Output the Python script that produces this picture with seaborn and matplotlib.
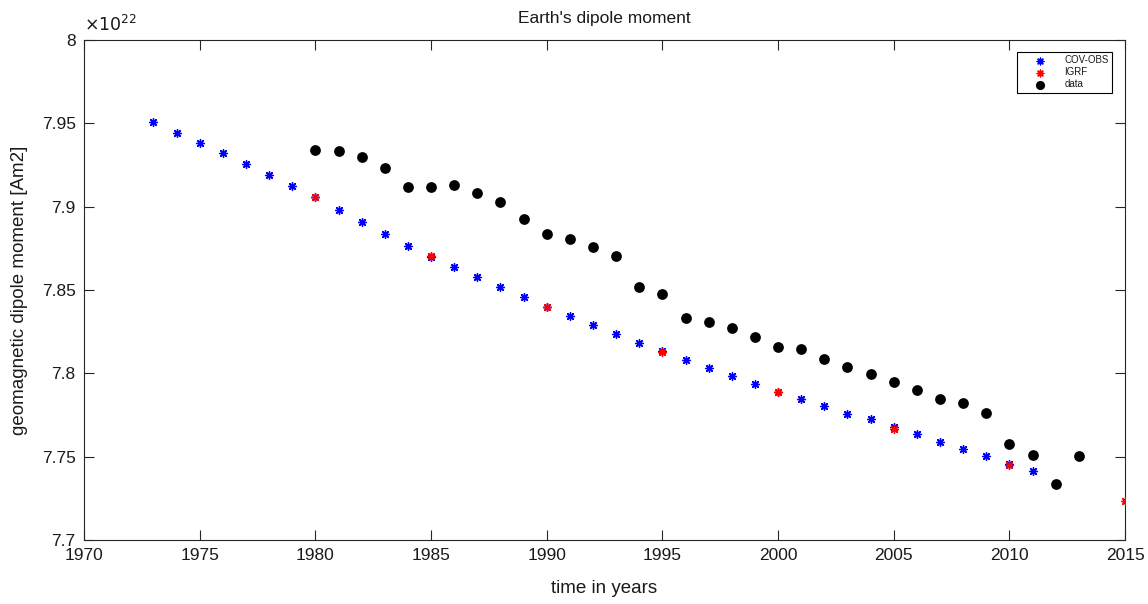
import numpy as np
import pandas as pd
import matplotlib
matplotlib.use("Agg")
import matplotlib.pyplot as plt
from matplotlib.ticker import FuncFormatter
import seaborn as sns

# valores en unidades de 1e22 Am2
cov_years = list(range(1973, 2012))
cov_vals = [7.951, 7.944, 7.938, 7.932, 7.9256, 7.919, 7.9124, 7.906, 7.898, 7.891,
            7.8836, 7.8764, 7.870, 7.8638, 7.8578, 7.8518, 7.8458, 7.8398, 7.8344, 7.829,
            7.8236, 7.8182, 7.8134, 7.808, 7.8032, 7.7984, 7.7936, 7.7888, 7.7846, 7.7804,
            7.7756, 7.7726, 7.7678, 7.7636, 7.7588, 7.7546, 7.7504, 7.7456, 7.7414]

igrf_years = [1980, 1985, 1990, 1995, 2000, 2005, 2010, 2015]
igrf_vals = [7.906, 7.8704, 7.840, 7.8128, 7.7888, 7.7666, 7.745, 7.7234]

data_years = list(range(1980, 2014))
data_vals = [7.9338, 7.9334, 7.930, 7.9232, 7.9118, 7.9118, 7.9132, 7.908, 7.9028, 7.8926,
             7.8838, 7.8804, 7.876, 7.8704, 7.852, 7.8478, 7.8332, 7.8306, 7.827, 7.8218,
             7.8158, 7.8144, 7.8088, 7.804, 7.7994, 7.7946, 7.7898, 7.7846, 7.7822, 7.7764,
             7.7578, 7.7512, 7.7334, 7.7502]

sns.set_theme(style="ticks")
plt.rcParams['font.family'] = ['Liberation Sans', 'DejaVu Sans']
plt.rcParams['xtick.direction'] = 'in'
plt.rcParams['ytick.direction'] = 'in'
plt.rcParams['xtick.top'] = True
plt.rcParams['ytick.right'] = True
plt.rcParams['text.color'] = '#1a1a1a'
plt.rcParams['axes.labelcolor'] = '#1a1a1a'

fig = plt.figure(figsize=(11.48, 6.04), dpi=100)
ax = fig.add_axes([0.0732, 0.106, 0.9068, 0.8278])

df_cov = pd.DataFrame({'year': cov_years, 'moment': cov_vals})
df_igrf = pd.DataFrame({'year': igrf_years, 'moment': igrf_vals})
df_data = pd.DataFrame({'year': data_years, 'moment': data_vals})

aster = (8, 2, 0)
sns.scatterplot(data=df_cov, x='year', y='moment', ax=ax, marker=aster, s=32,
                color='#0000ff', edgecolor='#0000ff', linewidth=1.0, label='COV-OBS', zorder=3)
sns.scatterplot(data=df_igrf, x='year', y='moment', ax=ax, marker=aster, s=32,
                color='#ff0000', edgecolor='#ff0000', linewidth=1.0, label='IGRF', zorder=4)
sns.scatterplot(data=df_data, x='year', y='moment', ax=ax, marker='o', s=60,
                color='black', edgecolor='black', linewidth=0, label='data', zorder=3)

ax.set_xlim(1970, 2015)
ax.set_ylim(7.7, 8.0)
ax.set_xticks(np.arange(1970, 2016, 5))
ax.set_yticks([7.7, 7.75, 7.8, 7.85, 7.9, 7.95, 8.0])
ax.yaxis.set_major_formatter(FuncFormatter(lambda v, p: f'{v:g}'))
ax.tick_params(axis='both', labelsize=12.5, length=7, width=0.8, colors='#262626',
               labelcolor='#1a1a1a', pad=6)

for s in ax.spines.values():
    s.set_color('#262626')
    s.set_linewidth(0.8)

ax.set_title("Earth's dipole moment", fontsize=12.5, pad=12)
ax.set_xlabel('time in years', fontsize=13.5, labelpad=12)
ax.set_ylabel('geomagnetic dipole moment [Am2]', fontsize=13.5, labelpad=10)
ax.text(0.0, 1.012, r'$\times10^{22}$', transform=ax.transAxes, fontsize=12.5,
        ha='left', va='bottom')

leg = ax.legend(loc='upper right', bbox_to_anchor=(0.9875, 0.976), fontsize=7,
                frameon=True, fancybox=False, edgecolor='black', framealpha=1,
                borderpad=0.35, labelspacing=0.2, handlelength=4.0, handletextpad=0.5,
                borderaxespad=0, markerscale=0.85)
leg.get_frame().set_linewidth(0.8)

plt.savefig('out.png', dpi=100)
